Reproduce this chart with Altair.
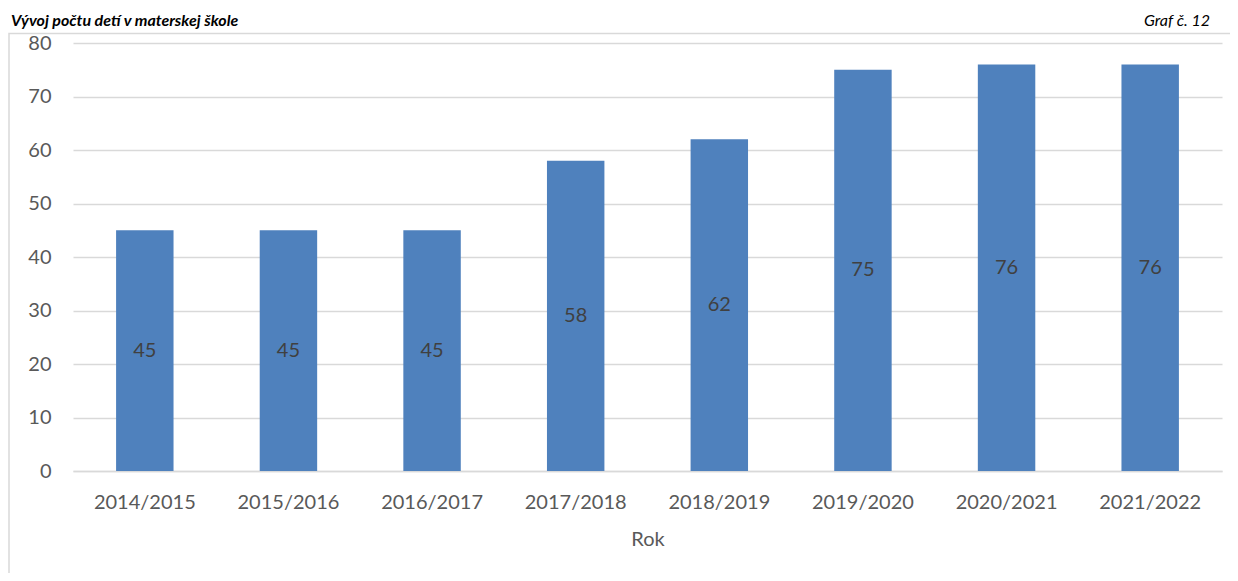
import altair as alt
import pandas as pd

years = ["2014/2015", "2015/2016", "2016/2017", "2017/2018",
         "2018/2019", "2019/2020", "2020/2021", "2021/2022"]
counts = [45, 45, 45, 58, 62, 75, 76, 76]
title_left = "Vývoj počtu detí v materskej škole"
title_right = "Graf č. 12"
x_title = "Rok"
y_ticks = [0, 10, 20, 30, 40, 50, 60, 70, 80]

df = pd.DataFrame({"rok": years, "pocet": counts})

FONT = "Lato"
GRAY = "#595959"

base = alt.Chart(df)
one = base.transform_filter("datum.rok == '2014/2015'")

x_enc = alt.X("rok:N", sort=years, title=x_title,
              scale=alt.Scale(paddingInner=0.6, paddingOuter=0.3),
              axis=alt.Axis(labelAngle=0, ticks=False, domain=True,
                            domainColor="#d9d9d9", domainWidth=1.5,
                            labelPadding=21, titlePadding=17,
                            labelFontSize=20, titleFontSize=20,
                            labelColor=GRAY, titleColor=GRAY,
                            labelFont=FONT, titleFont=FONT,
                            titleFontWeight="normal"))

y_enc = alt.Y("pocet:Q", title=None,
              scale=alt.Scale(domain=[0, 80], nice=False),
              axis=alt.Axis(values=y_ticks, ticks=False, domain=False,
                            gridColor="#d9d9d9", gridWidth=1.5,
                            labelPadding=22, labelFontSize=20,
                            labelColor=GRAY, labelFont=FONT))

bars = base.mark_bar(color="#4f81bd").encode(x=x_enc, y=y_enc)

labels = base.transform_calculate(mid="datum.pocet / 2").mark_text(
    font=FONT, fontSize=20, color="#404040", baseline="middle"
).encode(x=alt.X("rok:N", sort=years), y=alt.Y("mid:Q"), text="pocet:Q")

frame = one.mark_rect(
    fill=None, stroke="#d9d9d9", strokeWidth=1.5, clip=False
).encode(x=alt.value(-64), x2=alt.value(1300),
         y=alt.value(-9.5), y2=alt.value(700))

tl = one.mark_text(
    text=title_left, font=FONT, fontSize=16, fontWeight="bold",
    fontStyle="italic", color="#000000", align="left", baseline="alphabetic"
).encode(x=alt.value(-62), y=alt.value(-17))

tr = one.mark_text(
    text=title_right, font=FONT, fontSize=16, fontStyle="italic",
    color="#000000", align="right", baseline="alphabetic"
).encode(x=alt.value(1137), y=alt.value(-17))

chart = alt.layer(frame, bars, labels, tl, tr).properties(
    width=1149, height=428,
    autosize=alt.AutoSizeParams(type="none"),
    padding={"left": 65, "top": 35, "right": 8, "bottom": 102},
).configure_view(stroke=None)

chart.save("out.html", embed_options={"renderer": "svg", "actions": False})
